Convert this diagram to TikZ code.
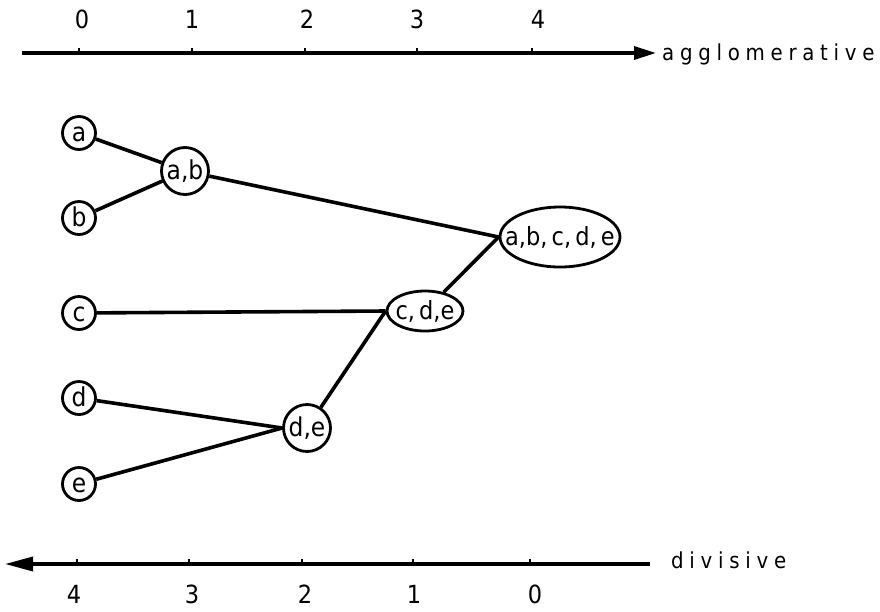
\documentclass[tikz,border=0pt]{standalone}
\usepackage{fontspec}
\setmainfont{DejaVu Sans Condensed}
\newfontfamily\axisfont[LetterSpace=26]{DejaVu Sans Condensed}
\usetikzlibrary{arrows.meta,shapes.geometric}
\newcommand{\ntext}[1]{\makebox[0pt]{\raisebox{-8pt}[0pt][0pt]{#1}}}
\tikzset{
  leaf/.style={draw, circle, line width=2.8pt, minimum size=33pt, inner sep=0pt,
    font=\fontsize{26}{26}\selectfont},
  merged/.style={draw, circle, line width=2.8pt, minimum size=47pt, inner sep=0pt,
    font=\fontsize{26}{26}\selectfont},
  oval/.style={draw, ellipse, line width=2.8pt, inner sep=0pt,
    font=\fontsize{25}{25}\selectfont},
  conn/.style={line width=3.6pt},
  axisline/.style={line width=3.4pt},
  tickmark/.style={line width=2.2pt},
  num/.style={anchor=base, inner sep=0pt, font=\fontsize{25}{25}\selectfont},
  axislabel/.style={anchor=base west, inner sep=0pt, font=\axisfont\fontsize{22}{22}\selectfont}
}
\begin{document}
\begin{tikzpicture}[x=1pt,y=-1pt]
\useasboundingbox (0,0) rectangle (880,611);

% top axis
\coordinate (ts) at (22,53);
\coordinate (te) at (656,53);
\draw[axisline, -{Triangle[length=22pt,width=13pt]}] (ts) -- (te);
\foreach \x in {79,192,305,417,532} \draw[tickmark] (\x,53) -- (\x,48);
\node[num] (t0) at (82,28) {0};
\node[num] (t1) at (192,28) {1};
\node[num] (t2) at (307,28) {2};
\node[num] (t3) at (417,28) {3};
\node[num] (t4) at (538,28) {4};
\node[axislabel] (agg) at (662,60) {agglomerative};

% bottom axis
\coordinate (bs) at (650,564);
\coordinate (be) at (5,564);
\draw[axisline, -{Triangle[length=28pt,width=14pt]}] (bs) -- (be);
\foreach \x in {77,189,302,413,530} \draw[tickmark] (\x,564) -- (\x,559);
\node[num] (b4) at (74,603) {4};
\node[num] (b3) at (192,603) {3};
\node[num] (b2) at (305,603) {2};
\node[num] (b1) at (414,603) {1};
\node[num] (b0) at (535,603) {0};
\node[axislabel] (div) at (671,568) {divisive};

% leaves
\node[leaf] (a) at (79,133) {\ntext{a}};
\node[leaf] (b) at (79,218) {\ntext{b}};
\node[leaf] (c) at (79,313) {\ntext{c}};
\node[leaf] (d) at (79,398) {\ntext{d}};
\node[leaf] (e) at (79,484) {\ntext{e}};

% clusters
\node[merged] (ab) at (185,171) {\ntext{a,b}};
\node[merged] (de) at (307,428) {\ntext{d,e}};
\node[oval, minimum width=76pt, minimum height=40pt] (cde) at (425,311) {\ntext{c,\,d,e}};
\node[oval, minimum width=120pt, minimum height=60pt] (abcde) at (560,237) {\ntext{a,b,\,c,\,d,\,e}};

% connectors
\draw[conn] (a) -- (ab);
\draw[conn] (b) -- (ab);
\draw[conn] (ab) -- (abcde.west);
\draw[conn] (c) -- (cde.west);
\draw[conn] (d) -- (de.west);
\draw[conn] (e) -- (de.west);
\draw[conn] (de) -- (cde.west);
\draw[conn] (cde) -- (abcde.west);
\end{tikzpicture}
\end{document}
